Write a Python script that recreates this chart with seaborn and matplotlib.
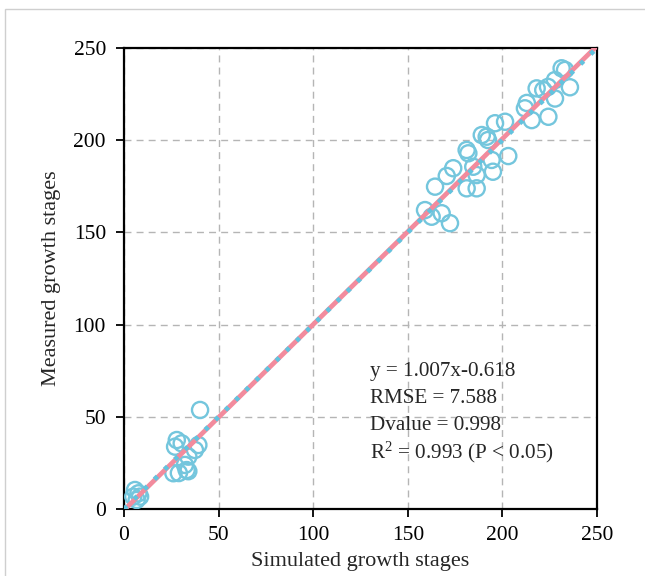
import matplotlib
matplotlib.use("Agg")
import matplotlib.pyplot as plt
import seaborn as sns
import numpy as np
import pandas as pd
from matplotlib.patches import Rectangle

# Data
simulated = [40.2, 27.9, 30.5, 27.0, 39.3, 37.5, 34.0, 32.2, 33.1, 26.1, 29.0, 34.0,
             5.8, 7.6, 4.9, 8.5, 6.7,
             159.1, 162.6, 167.9, 172.3, 164.4, 170.6, 174.0, 181.1, 182.0, 184.6,
             186.4, 181.1, 186.4, 195.0, 194.3, 203.1, 189.1, 191.7, 192.4, 196.1,
             201.4, 211.9, 215.5, 224.3, 218.1, 221.6, 227.8, 235.7, 227.8, 231.3,
             233.1, 224.1, 212.9]
measured = [53.7, 37.4, 35.6, 33.8, 34.7, 32.0, 28.4, 23.9, 21.1, 19.4, 19.5, 20.5,
            10.3, 8.5, 6.7, 6.7, 4.9,
            162.1, 158.5, 160.4, 155.0, 174.8, 180.6, 184.8, 194.7, 192.9, 185.6,
            181.1, 173.9, 173.9, 182.9, 189.3, 191.4, 202.8, 201.9, 200.1, 209.2,
            210.0, 217.3, 210.9, 212.7, 228.1, 227.2, 222.6, 228.7, 232.6, 239.0,
            238.1, 228.9, 220.2]
slope = 1.007
intercept = -0.618
line_x = [0, 250]
ticks = [0, 50, 100, 150, 200, 250]
stats_text = ["y = 1.007x-0.618", "RMSE = 7.588", "Dvalue = 0.998",
              "R$^{2}$ = 0.993 (P < 0.05)"]

sns.set_style("white")
plt.rcParams['font.family'] = ['Liberation Serif', 'DejaVu Serif']
plt.rcParams['mathtext.fontset'] = 'custom'
plt.rcParams['mathtext.rm'] = 'Liberation Serif'
plt.rcParams['mathtext.it'] = 'Liberation Serif:italic'

fig = plt.figure(figsize=(6.45, 5.76), dpi=100)
fig.patches.append(Rectangle((5/645, -0.1), 1.2, 1 - 9/576 + 0.1,
                             transform=fig.transFigure, fill=False,
                             edgecolor='#cfcfcf', linewidth=1.0))
ax = fig.add_axes([124/645, 1 - 509/576, 473/645, 461/576])

df = pd.DataFrame({"sim": simulated, "meas": measured})
line_df = pd.DataFrame({"x": line_x, "fit": [slope * v + intercept for v in line_x],
                        "one": line_x})

sns.scatterplot(data=df, x="sim", y="meas", ax=ax, marker='o', s=135,
                fc='none', ec='#74c6dd', linewidth=1.7, zorder=3)
sns.lineplot(data=line_df, x="x", y="fit", ax=ax, color='#f28b9d',
             linewidth=3.4, zorder=4)
sns.lineplot(data=line_df, x="x", y="one", ax=ax, color='#62c3de',
             linewidth=3.4, zorder=5, dashes=False)
ax.lines[-1].set_dashes([0.9, 2.1])

ax.set_xlim(0, 250)
ax.set_ylim(0, 250)
ax.set_xticks(ticks)
ax.set_yticks(ticks)
ax.tick_params(axis='both', which='major', direction='out', length=6, width=1.3,
               labelsize=15.5, bottom=True, left=True, top=False, right=False,
               colors='black')
ax.tick_params(axis='y', pad=7)
ax.tick_params(axis='x', pad=6)
ax.grid(True, linestyle=(0, (5, 3.7)), color='#b5b5b5', linewidth=1.0, zorder=0)
ax.set_axisbelow(True)
for sp in ax.spines.values():
    sp.set_visible(True)
    sp.set_color('black')
    sp.set_linewidth(1.6)

ax.set_xlabel("Simulated growth stages", fontsize=16, labelpad=5)
ax.set_ylabel("Measured growth stages", fontsize=16, labelpad=9)

for i, t in enumerate(stats_text):
    ax.text(130, 74.3 - i * 14.6, t, fontsize=15.2, va='center', ha='left', zorder=6)

fig.savefig("out.png", dpi=100)
